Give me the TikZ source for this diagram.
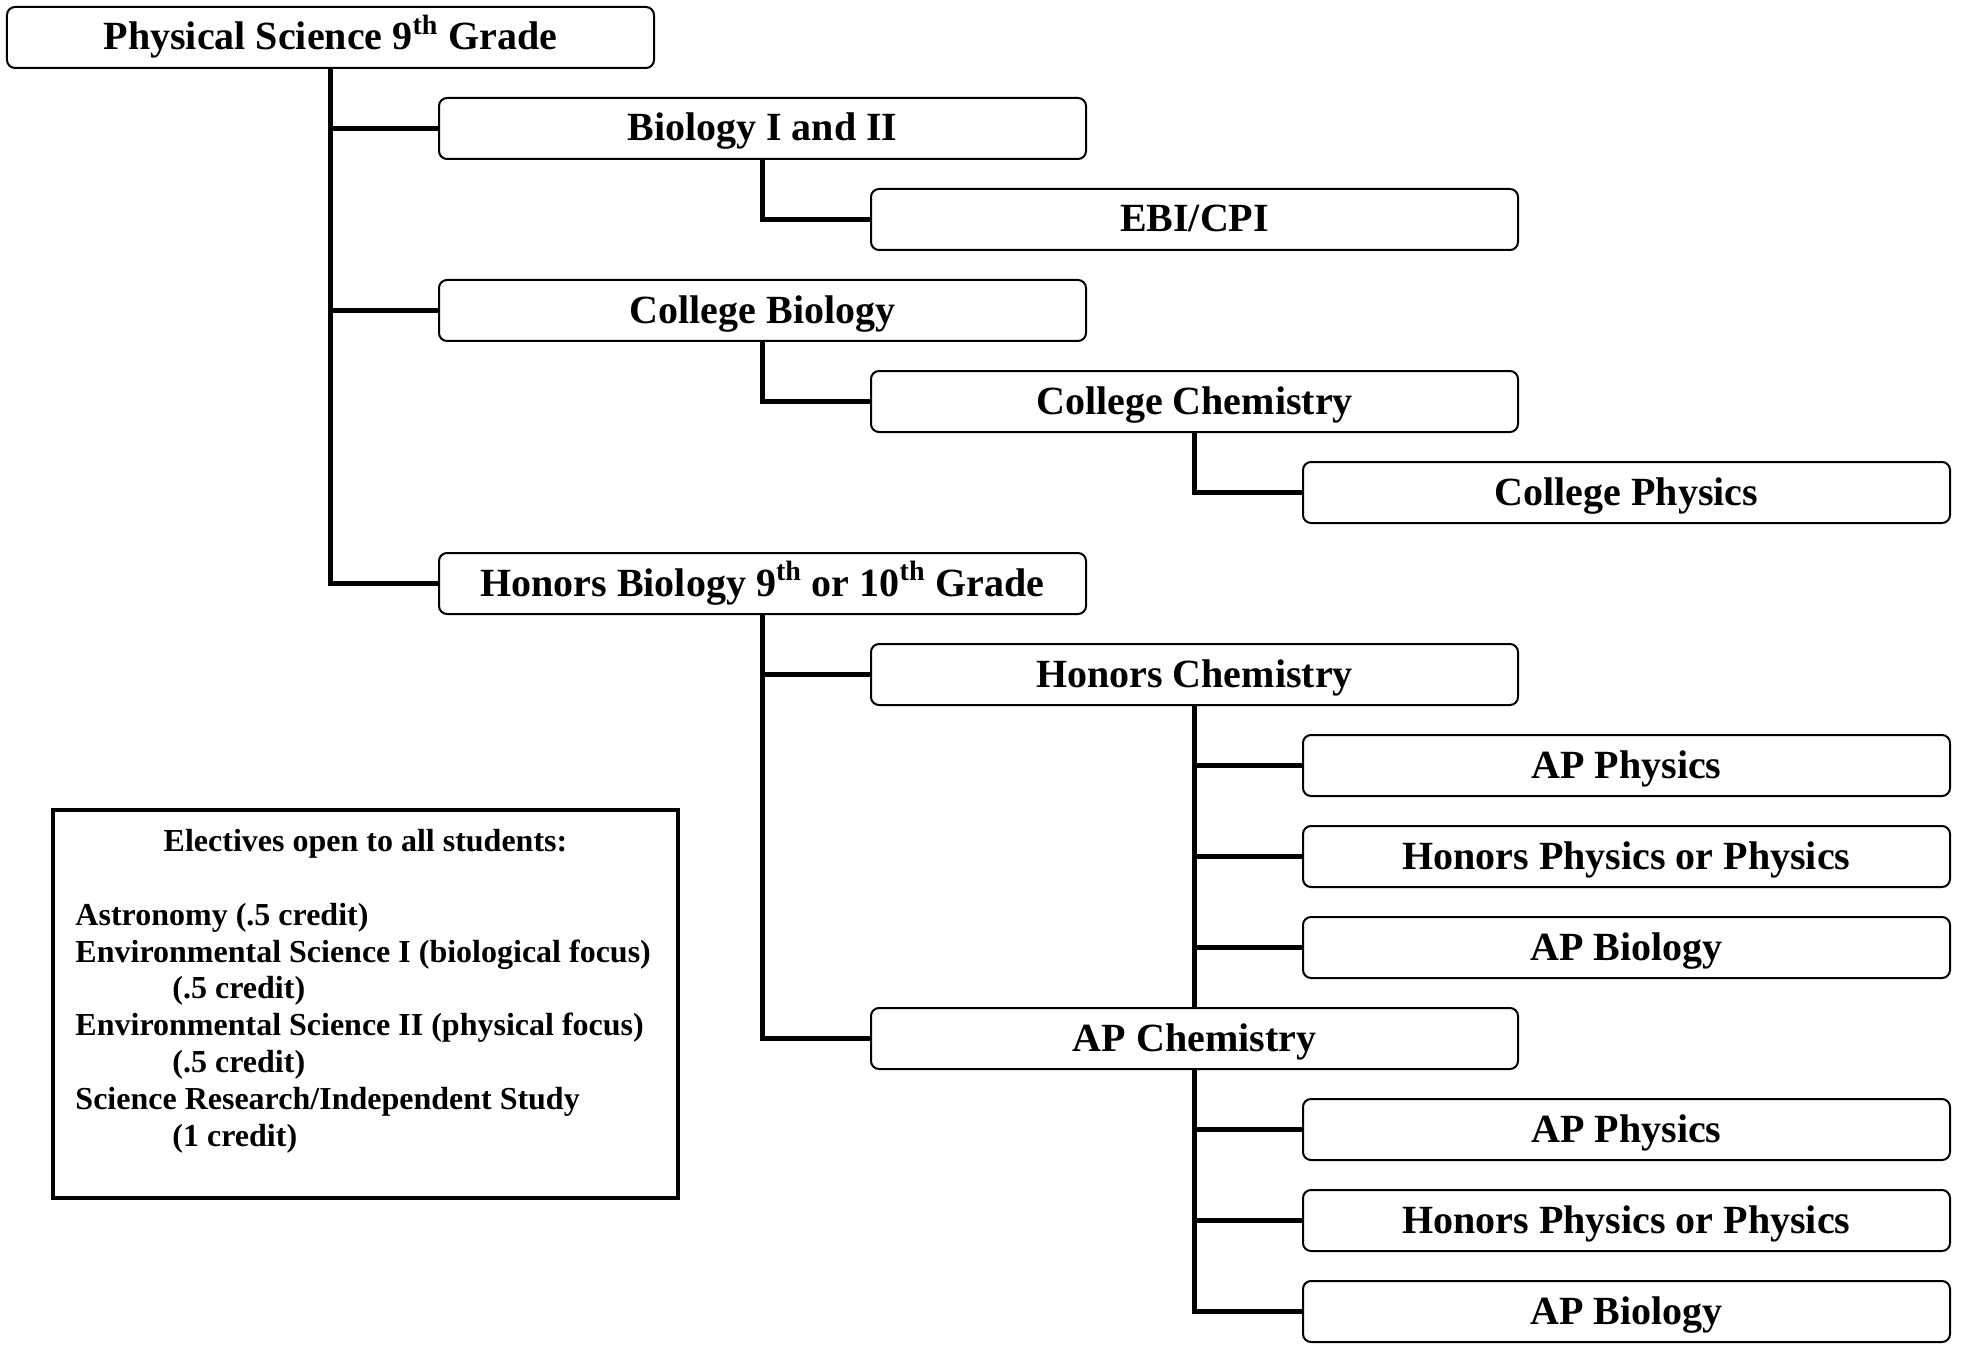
\documentclass[tikz,border=0pt]{standalone}
\usepackage{fontspec}
\setmainfont{Liberation Serif}
\usetikzlibrary{positioning}

\begin{document}
\begin{tikzpicture}[on grid,
		course/.style={draw, line width=1pt, rounded corners=4pt,
			minimum width=323.5pt, minimum height=30.5pt, inner sep=0pt,
			text height=16.5pt, text depth=4pt,
			font=\fontsize{20}{23}\selectfont\bfseries},
		link/.style={line width=2.9pt},
		elbow/.style={to path={|- (\tikztotarget)}},
		elecbox/.style={draw, line width=2pt, inner xsep=11pt, inner ysep=10pt,
			font=\fontsize{16}{18.4}\selectfont\bfseries}]
		
		\useasboundingbox (-165.25pt,18.75pt) rectangle (817.25pt,-655.25pt);
		
		% --- Courses ---
		\node[course] (root) {Physical Science 9\textsuperscript{th} Grade};
		\node[course] (bio) [below right=45.5pt and 216pt of root] {Biology I and II};
		\node[course] (ebi) [below right=45.5pt and 216pt of bio] {EBI/CPI};
		\node[course] (cbio) [below=91pt of bio] {College Biology};
		\node[course] (cchem) [below right=45.5pt and 216pt of cbio] {College Chemistry};
		\node[course] (cphys) [below right=45.5pt and 216pt of cchem] {College Physics};
		\node[course] (hbio) [below=136.5pt of cbio] {Honors Biology 9\textsuperscript{th} or 10\textsuperscript{th} Grade};
		\node[course] (hchem) [below right=45.5pt and 216pt of hbio] {Honors Chemistry};
		\node[course] (apphysa) [below right=45.5pt and 216pt of hchem] {AP Physics};
		\node[course] (hphysa) [below=45.5pt of apphysa] {Honors Physics or Physics};
		\node[course] (apbioa) [below=45.5pt of hphysa] {AP Biology};
		\node[course] (apchem) [below=182pt of hchem] {AP Chemistry};
		\node[course] (apphysb) [below right=45.5pt and 216pt of apchem] {AP Physics};
		\node[course] (hphysb) [below=45.5pt of apphysb] {Honors Physics or Physics};
		\node[course] (apbiob) [below=45.5pt of hphysb] {AP Biology};
		
		% --- Electives ---
		\node[elecbox] (elec) [below right=483pt and 17.5pt of root] {%
			\begin{minipage}[t][174pt][t]{290pt}
				\centering Electives open to all students:\par
				\raggedright\leavevmode\par
				Astronomy (.5 credit)\par
				Environmental Science I (biological focus)\par
				\hspace*{48.5pt}(.5 credit)\par
				Environmental Science II (physical focus)\par
				\hspace*{48.5pt}(.5 credit)\par
				Science Research/Independent Study\par
				\hspace*{48.5pt}(1 credit)\par
			\end{minipage}};
		
		% --- Links ---
		\path[link]
		(root.south) edge[elbow] (bio.west)
		edge[elbow] (cbio.west)
		edge[elbow] (hbio.west)
		
		(bio.south) edge[elbow] (ebi.west)
		
		(cbio.south) edge[elbow] (cchem.west)
		
		(cchem.south) edge[elbow] (cphys.west)
		
		(hbio.south) edge[elbow] (hchem.west)
		edge[elbow] (apchem.west)
		
		(hchem.south) edge[elbow] (apphysa.west)
		edge[elbow] (hphysa.west)
		edge[elbow] (apbioa.west)
		edge (apchem.north)
		
		(apchem.south) edge[elbow] (apphysb.west)
		edge[elbow] (hphysb.west)
		edge[elbow] (apbiob.west);
	\end{tikzpicture}
\end{document}
